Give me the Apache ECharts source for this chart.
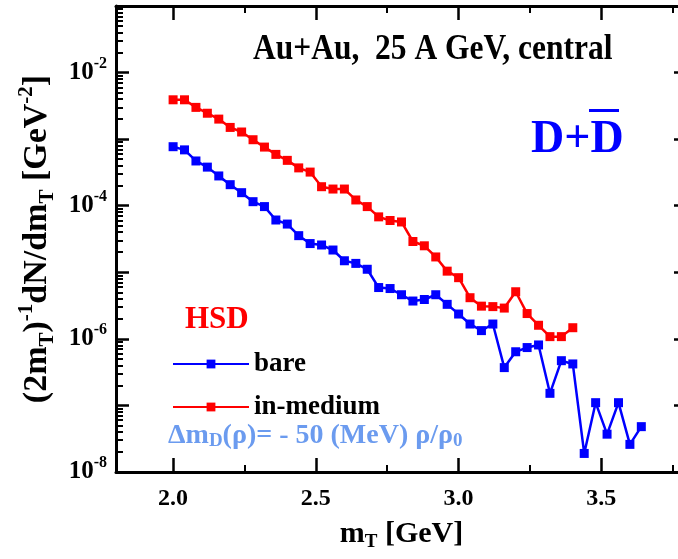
<!DOCTYPE html>
<html><head><meta charset="utf-8">
<script src="https://cdn.jsdelivr.net/npm/echarts@6/dist/echarts.min.js"></script>
<style>html,body{margin:0;padding:0;overflow:hidden;background:#fff}#c{width:678px;height:559px}</style>
</head><body><div id="c"></div>
<script>
// transverse mass [GeV]
const mT = [2.00, 2.04, 2.08, 2.12, 2.16, 2.20, 2.24, 2.28, 2.32, 2.36, 2.40, 2.44, 2.48, 2.52,
            2.56, 2.60, 2.64, 2.68, 2.72, 2.76, 2.80, 2.84, 2.88, 2.92, 2.96, 3.00, 3.04, 3.08,
            3.12, 3.16, 3.20, 3.24, 3.28, 3.32, 3.36, 3.40, 3.44, 3.48, 3.52, 3.56, 3.60, 3.64];
// HSD bare D+Dbar spectrum
const bare = [7.7e-4, 6.9e-4, 4.7e-4, 3.8e-4, 2.8e-4, 2.07e-4, 1.57e-4, 1.15e-4, 9.7e-5, 6.1e-5,
              5.3e-5, 3.55e-5, 2.7e-5, 2.57e-5, 2.16e-5, 1.49e-5, 1.36e-5, 1.11e-5, 5.9e-6, 5.7e-6,
              4.6e-6, 3.7e-6, 3.9e-6, 4.6e-6, 3.3e-6, 2.36e-6, 1.67e-6, 1.33e-6, 1.67e-6, 3.7e-7,
              6.4e-7, 7.4e-7, 8.1e-7, 1.52e-7, 4.7e-7, 4.2e-7, 1.9e-8, 1.1e-7, 3.7e-8, 1.1e-7,
              2.6e-8, 4.8e-8];
// HSD in-medium D+Dbar spectrum
const inMedium = [3.9e-3, 3.9e-3, 3.0e-3, 2.45e-3, 2.0e-3, 1.5e-3, 1.28e-3, 9.8e-4, 7.6e-4, 5.9e-4,
                  4.8e-4, 3.7e-4, 3.2e-4, 1.93e-4, 1.78e-4, 1.78e-4, 1.22e-4, 9.7e-5, 6.8e-5, 6.0e-5,
                  5.7e-5, 2.9e-5, 2.5e-5, 1.7e-5, 1.04e-5, 8.3e-6, 4.15e-6, 3.1e-6, 3.05e-6, 2.9e-6,
                  5.1e-6, 2.4e-6, 1.6e-6, 1.08e-6, 1.08e-6, 1.47e-6];
const seriesNames = ['bare', 'in-medium'];
const xMajorTicks = [2.0, 2.5, 3.0, 3.5];
const xMinorTicks = [2.25, 2.75, 3.25, 3.75];
const yMajorTicks = [1e-8, 1e-7, 1e-6, 1e-5, 1e-4, 1e-3, 1e-2, 1e-1];
const yLabelTicks = [1e-8, 1e-6, 1e-4, 1e-2];
const yMinorTicks = [];
for (let e = -8; e <= -2; e++) for (let k = 2; k <= 9; k++) yMinorTicks.push(+(k * Math.pow(10, e)).toPrecision(3));

const FONT = '"Liberation Serif","Times New Roman",serif';
const XMIN = 1.8, XMAX = 3.8, YMIN = 1e-8, YMAX = 1e-1;

function xAx(pos, ticks, len, line, labels) {
  return {
    type: 'value', position: pos, min: XMIN, max: XMAX, gridIndex: 0,
    splitLine: {show: false},
    axisLine: {show: line, onZero: false, lineStyle: {color: '#000', width: 3}},
    axisTick: {show: true, inside: true, length: len, customValues: ticks, lineStyle: {color: '#000', width: len > 10 ? 2.5 : 2}},
    axisLabel: labels ? {
      show: true, customValues: xMajorTicks, margin: 15, color: '#000',
      fontFamily: FONT, fontWeight: 'bold', fontSize: 24,
      formatter: v => Number(v).toFixed(1)
    } : {show: false}
  };
}
function yAx(pos, ticks, len, line, labels) {
  return {
    type: 'log', logBase: 10, position: pos, min: YMIN, max: YMAX, gridIndex: 0,
    splitLine: {show: false},
    axisLine: {show: line, onZero: false, lineStyle: {color: '#000', width: 3}},
    axisTick: {show: true, inside: true, length: len, customValues: ticks, lineStyle: {color: '#000', width: len > 10 ? 2.5 : 2}},
    axisLabel: labels ? {
      show: true, customValues: yLabelTicks, margin: 9,
      formatter: v => '{b|10}{s|' + Math.round(Math.log10(v)) + '}',
      rich: {
        b: {fontFamily: FONT, fontWeight: 'bold', fontSize: 25, color: '#000', lineHeight: 34},
        s: {fontFamily: FONT, fontWeight: 'bold', fontSize: 16, color: '#000', lineHeight: 16, verticalAlign: 'top'}
      }
    } : {show: false}
  };
}

const xAxes = [xAx('bottom', xMajorTicks, 14, true, true), xAx('bottom', xMinorTicks, 7, false, false),
               xAx('top', xMajorTicks, 14, true, false), xAx('top', xMinorTicks, 7, false, false)];
xAxes[0].name = '{n|m}{s|T}{n| [GeV]}';
xAxes[0].nameLocation = 'middle';
xAxes[0].nameGap = 44;
xAxes[0].nameTextStyle = {rich: {
  n: {fontFamily: FONT, fontWeight: 'bold', fontSize: 30, color: '#000', lineHeight: 36},
  s: {fontFamily: FONT, fontWeight: 'bold', fontSize: 19, color: '#000', lineHeight: 19, verticalAlign: 'bottom'}
}};
const yAxes = [yAx('left', yMajorTicks, 13, true, true), yAx('left', yMinorTicks, 7, false, false),
               yAx('right', yMajorTicks, 13, true, false), yAx('right', yMinorTicks, 7, false, false)];
yAxes[0].name = '{n|(2m}{d|T}{n|)}{u|-1}{n|dN/dm}{d|T}{n| [GeV}{u|-2}{n|]}';
yAxes[0].nameLocation = 'middle';
yAxes[0].nameRotate = 90;
yAxes[0].nameGap = 44;
yAxes[0].nameTextStyle = {rich: {
  n: {fontFamily: FONT, fontWeight: 'bold', fontSize: 34, color: '#000', lineHeight: 42},
  d: {fontFamily: FONT, fontWeight: 'bold', fontSize: 21, color: '#000', lineHeight: 20, verticalAlign: 'bottom'},
  u: {fontFamily: FONT, fontWeight: 'bold', fontSize: 21, color: '#000', lineHeight: 20, verticalAlign: 'top'}
}};

const chart = echarts.init(document.getElementById('c'), null, {renderer: 'canvas'});
chart.setOption({
  animation: false,
  backgroundColor: '#fff',
  grid: {left: 116, top: 6, width: 571, height: 466, containLabel: false, outerBoundsMode: 'none'},
  xAxis: xAxes,
  yAxis: yAxes,
  legend: {
    orient: 'vertical', left: 167, top: 344, itemWidth: 76, itemHeight: 11, itemGap: 13,
    selectedMode: false, data: seriesNames,
    textStyle: {fontFamily: FONT, fontWeight: 'bold', fontSize: 27, color: '#000', lineHeight: 30}
  },
  series: [
    {name: seriesNames[0], type: 'line', xAxisIndex: 0, yAxisIndex: 0, color: '#0000ff',
     symbol: 'rect', symbolSize: 9, lineStyle: {width: 2.5, color: '#0000ff'}, itemStyle: {color: '#0000ff'},
     data: bare.map((v, i) => [mT[i], v])},
    {name: seriesNames[1], type: 'line', xAxisIndex: 0, yAxisIndex: 0, color: '#ff0000',
     symbol: 'rect', symbolSize: 9, lineStyle: {width: 2.5, color: '#ff0000'}, itemStyle: {color: '#ff0000'},
     data: inMedium.map((v, i) => [mT[i], v])}
  ],
  graphic: [
    {type: 'text', x: 253, y: 50, scaleX: 0.9, style: {text: 'Au+Au,  25 A GeV, central', fontFamily: FONT, fontWeight: 'bold', fontSize: 35, fill: '#000', verticalAlign: 'middle'}},
    {type: 'text', x: 531, y: 140, style: {text: 'D+D', fontFamily: FONT, fontWeight: 'bold', fontSize: 46, fill: '#0000ff', verticalAlign: 'middle'}},
    {type: 'rect', shape: {x: 589, y: 109, width: 30, height: 3}, style: {fill: '#0000ff'}},
    {type: 'text', x: 185, y: 320, style: {text: 'HSD', fontFamily: FONT, fontWeight: 'bold', fontSize: 31, fill: '#ff0000', verticalAlign: 'middle'}},
    {type: 'text', x: 168, y: 436, style: {
      text: '{n|Δm}{s|D}{n|(ρ)= - 50 (MeV) ρ/ρ}{s|0}', verticalAlign: 'middle',
      rich: {
        n: {fontFamily: FONT, fontWeight: 'bold', fontSize: 28, fill: '#6b9bef', lineHeight: 30},
        s: {fontFamily: FONT, fontWeight: 'bold', fontSize: 19, fill: '#6b9bef', lineHeight: 22, verticalAlign: 'bottom'}
      }}}
  ]
});
</script></body></html>
